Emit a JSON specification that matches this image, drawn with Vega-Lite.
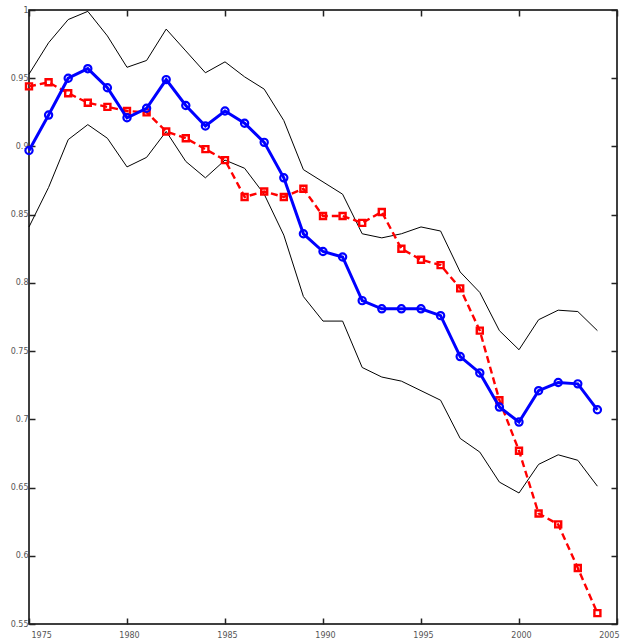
{
  "$schema": "https://vega.github.io/schema/vega-lite/v6.json",
  "width": 588,
  "height": 614,
  "autosize": {"type": "none"},
  "padding": {"left": 29, "top": 10, "right": 11, "bottom": 14},
  "background": "white",
  "config": {
    "view": {"stroke": "black", "strokeWidth": 1.5},
    "axis": {
      "labelFont": "DejaVu Sans",
      "labelFontSize": 8,
      "labelColor": "#555555",
      "domain": false,
      "grid": false,
      "ticks": true,
      "tickColor": "#222222",
      "tickWidth": 1.5,
      "tickSize": -6,
      "title": null
    }
  },
  "data": {
    "values": [
      {"year": 1975, "upper": 0.953, "lower": 0.841, "blue": 0.897, "red": 0.944},
      {"year": 1976, "upper": 0.976, "lower": 0.870, "blue": 0.923, "red": 0.947},
      {"year": 1977, "upper": 0.993, "lower": 0.905, "blue": 0.950, "red": 0.939},
      {"year": 1978, "upper": 0.999, "lower": 0.916, "blue": 0.957, "red": 0.932},
      {"year": 1979, "upper": 0.981, "lower": 0.906, "blue": 0.943, "red": 0.929},
      {"year": 1980, "upper": 0.958, "lower": 0.885, "blue": 0.921, "red": 0.926},
      {"year": 1981, "upper": 0.963, "lower": 0.892, "blue": 0.928, "red": 0.925},
      {"year": 1982, "upper": 0.986, "lower": 0.911, "blue": 0.949, "red": 0.911},
      {"year": 1983, "upper": 0.970, "lower": 0.889, "blue": 0.930, "red": 0.906},
      {"year": 1984, "upper": 0.954, "lower": 0.877, "blue": 0.915, "red": 0.898},
      {"year": 1985, "upper": 0.962, "lower": 0.890, "blue": 0.926, "red": 0.890},
      {"year": 1986, "upper": 0.951, "lower": 0.884, "blue": 0.917, "red": 0.863},
      {"year": 1987, "upper": 0.942, "lower": 0.865, "blue": 0.903, "red": 0.867},
      {"year": 1988, "upper": 0.919, "lower": 0.835, "blue": 0.877, "red": 0.863},
      {"year": 1989, "upper": 0.883, "lower": 0.790, "blue": 0.836, "red": 0.869},
      {"year": 1990, "upper": 0.874, "lower": 0.772, "blue": 0.823, "red": 0.849},
      {"year": 1991, "upper": 0.865, "lower": 0.772, "blue": 0.819, "red": 0.849},
      {"year": 1992, "upper": 0.836, "lower": 0.738, "blue": 0.787, "red": 0.844},
      {"year": 1993, "upper": 0.833, "lower": 0.731, "blue": 0.781, "red": 0.852},
      {"year": 1994, "upper": 0.836, "lower": 0.728, "blue": 0.781, "red": 0.825},
      {"year": 1995, "upper": 0.841, "lower": 0.721, "blue": 0.781, "red": 0.817},
      {"year": 1996, "upper": 0.838, "lower": 0.714, "blue": 0.776, "red": 0.813},
      {"year": 1997, "upper": 0.808, "lower": 0.686, "blue": 0.746, "red": 0.796},
      {"year": 1998, "upper": 0.793, "lower": 0.676, "blue": 0.734, "red": 0.765},
      {"year": 1999, "upper": 0.765, "lower": 0.654, "blue": 0.709, "red": 0.714},
      {"year": 2000, "upper": 0.751, "lower": 0.646, "blue": 0.698, "red": 0.677},
      {"year": 2001, "upper": 0.773, "lower": 0.667, "blue": 0.721, "red": 0.631},
      {"year": 2002, "upper": 0.780, "lower": 0.674, "blue": 0.727, "red": 0.623},
      {"year": 2003, "upper": 0.779, "lower": 0.670, "blue": 0.726, "red": 0.591},
      {"year": 2004, "upper": 0.765, "lower": 0.651, "blue": 0.707, "red": 0.558}
    ]
  },
  "resolve": {"axis": {"x": "independent", "y": "independent"}},
  "layer": [
    {
      "mark": {"type": "line", "color": "black", "strokeWidth": 1},
      "encoding": {
        "x": {"field": "year", "type": "quantitative",
              "scale": {"domain": [1975, 2005], "nice": false, "zero": false},
              "axis": {"orient": "bottom", "values": [1975, 1980, 1985, 1990, 1995, 2000, 2005], "format": "d", "labelPadding": 13, "labelBaseline": "top", "labelOffset": 2}},
        "y": {"field": "upper", "type": "quantitative",
              "scale": {"domain": [0.55, 1], "nice": false, "zero": false},
              "axis": {"orient": "left", "values": [0.55, 0.6, 0.65, 0.7, 0.75, 0.8, 0.85, 0.9, 0.95, 1], "labelExpr": "format(datum.value, '~g')", "labelPadding": 7}}
      }
    },
    {
      "mark": {"type": "line", "color": "black", "strokeWidth": 1},
      "encoding": {
        "x": {"field": "year", "type": "quantitative",
              "axis": {"orient": "top", "values": [1975, 1980, 1985, 1990, 1995, 2000, 2005], "labels": false}},
        "y": {"field": "lower", "type": "quantitative",
              "axis": {"orient": "right", "values": [0.55, 0.6, 0.65, 0.7, 0.75, 0.8, 0.85, 0.9, 0.95, 1], "labels": false}}
      }
    },
    {
      "mark": {"type": "line", "color": "#ff0000", "strokeWidth": 2.4, "strokeDash": [7, 4]},
      "encoding": {
        "x": {"field": "year", "type": "quantitative", "axis": null},
        "y": {"field": "red", "type": "quantitative", "axis": null}
      }
    },
    {
      "mark": {"type": "point", "shape": "square", "color": "#ff0000", "filled": false, "strokeWidth": 2.4, "size": 36, "opacity": 1},
      "encoding": {
        "x": {"field": "year", "type": "quantitative", "axis": null},
        "y": {"field": "red", "type": "quantitative", "axis": null}
      }
    },
    {
      "mark": {"type": "line", "color": "#0000ff", "strokeWidth": 3},
      "encoding": {
        "x": {"field": "year", "type": "quantitative", "axis": null},
        "y": {"field": "blue", "type": "quantitative", "axis": null}
      }
    },
    {
      "mark": {"type": "point", "shape": "circle", "color": "#0000ff", "filled": false, "strokeWidth": 2.2, "size": 52, "opacity": 1},
      "encoding": {
        "x": {"field": "year", "type": "quantitative", "axis": null},
        "y": {"field": "blue", "type": "quantitative", "axis": null}
      }
    }
  ]
}
